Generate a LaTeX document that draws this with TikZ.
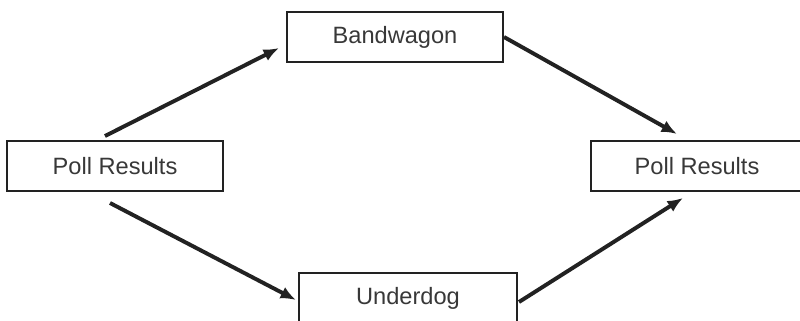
\documentclass[tikz,border=0pt]{standalone}
\usepackage{fontspec}
\setmainfont{Liberation Sans}
\usetikzlibrary{arrows.meta}
\definecolor{ink}{HTML}{222222}
\tikzset{
  box/.style={draw=ink, line width=1.4pt, rectangle, inner sep=0pt,
    minimum height=50*0.025cm, text=ink!90,
    font=\fontsize{16.8}{20}\selectfont},
  flow/.style={draw=ink, line width=2.8pt,
    -{Latex[length=11pt,width=9pt]}}
}
\begin{document}
\begin{tikzpicture}[x=0.025cm, y=-0.025cm]
  \useasboundingbox (0,0) rectangle (800,321);
  \clip (0,0) rectangle (800,321);

  % boxes
  \node[box, minimum width=216*0.025cm] (pl) at (115,166) {Poll Results};
  \node[box, minimum width=216*0.025cm] (bw) at (395,37) {\raisebox{3pt}{Bandwagon}};
  \node[box, minimum width=218*0.025cm] (ud) at (408,298) {\raisebox{-2pt}{Underdog}};
  \node[box, minimum width=212*0.025cm] (pr) at (697,166) {Poll Results};

  % influence arrows
  \draw[flow] ([shift={(-10,-4)}]pl.north) -- ([shift={(-7,11)}]bw.west);
  \draw[flow] (bw.east) -- ([shift={(-20,-6)}]pr.north);
  \draw[flow] ([shift={(-5,11)}]pl.south) -- ([shift={(-2,2)}]ud.west);
  \draw[flow] ([shift={(1,4)}]ud.east) -- ([shift={(-14,6)}]pr.south);
\end{tikzpicture}
\end{document}
